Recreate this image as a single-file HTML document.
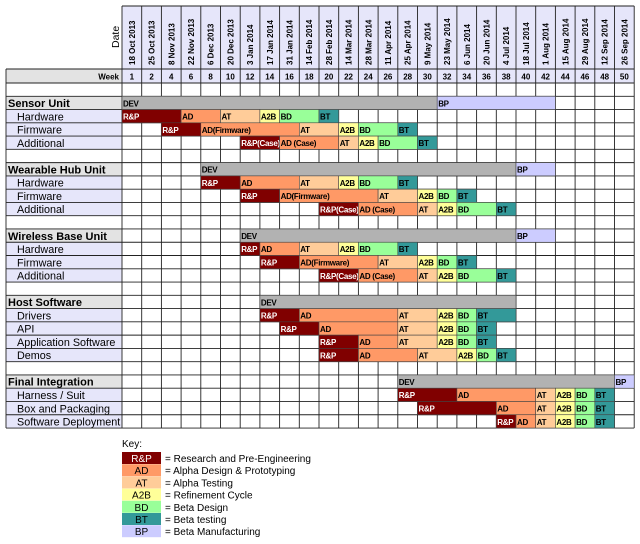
<!DOCTYPE html>
<html><head><meta charset="utf-8"><style>
body{margin:0;background:#fff;width:640px;height:544px;overflow:hidden}
svg{display:block;font-family:"Liberation Sans",Arial,sans-serif}
</style></head><body>
<svg id="chart" width="640" height="544" viewBox="0 0 640 544"></svg>
<script>
const weeks=[1,2,4,6,8,10,12,14,16,18,20,22,24,26,28,30,32,34,36,38,40,42,44,46,48,50];
const dates=["18 Oct 2013","25 Oct 2013","8 Nov 2013","22 Nov 2013","6 Dec 2013","20 Dec 2013","3 Jan 2014","17 Jan 2014","31 Jan 2014","14 Feb 2014","28 Feb 2014","14 Mar 2014","28 Mar 2014","11 Apr 2014","25 Apr 2014","9 May 2014","23 May 2014","6 Jun 2014","20 Jun 2014","4 Jul 2014","18 Jul 2014","1 Aug 2014","15 Aug 2014","29 Aug 2014","12 Sep 2014","26 Sep 2014"];
const rowLabels=["","Sensor Unit","Hardware","Firmware","Additional","","Wearable Hub Unit","Hardware","Firmware","Additional","","Wireless Base Unit","Hardware","Firmware","Additional","","Host Software","Drivers","API","Application Software","Demos","","Final Integration","Harness / Suit","Box and Packaging","Software Deployment"];
const rowKinds=["b","g","s","s","s","b","g","s","s","s","b","g","s","s","s","b","g","s","s","s","s","b","g","s","s","s"];
// tasks: [row, code, startCol, endCol, label]
const tasks=[
[1,"DEV",0,16,"DEV"],[1,"BP",16,22,"BP"],
[2,"RP",0,3,"R&P"],[2,"AD",3,5,"AD"],[2,"AT",5,7,"AT"],[2,"A2B",7,8,"A2B"],[2,"BD",8,10,"BD"],[2,"BT",10,11,"BT"],
[3,"RP",2,4,"R&P"],[3,"AD",4,9,"AD(Firmware)"],[3,"AT",9,11,"AT"],[3,"A2B",11,12,"A2B"],[3,"BD",12,14,"BD"],[3,"BT",14,15,"BT"],
[4,"RP",6,8,"R&P(Case)"],[4,"AD",8,11,"AD (Case)"],[4,"AT",11,12,"AT"],[4,"A2B",12,13,"A2B"],[4,"BD",13,15,"BD"],[4,"BT",15,16,"BT"],
[6,"DEV",4,20,"DEV"],[6,"BP",20,22,"BP"],
[7,"RP",4,6,"R&P"],[7,"AD",6,9,"AD"],[7,"AT",9,11,"AT"],[7,"A2B",11,12,"A2B"],[7,"BD",12,14,"BD"],[7,"BT",14,15,"BT"],
[8,"RP",6,8,"R&P"],[8,"AD",8,13,"AD(Firmware)"],[8,"AT",13,15,"AT"],[8,"A2B",15,16,"A2B"],[8,"BD",16,17,"BD"],[8,"BT",17,18,"BT"],
[9,"RP",10,12,"R&P(Case)"],[9,"AD",12,15,"AD (Case)"],[9,"AT",15,16,"AT"],[9,"A2B",16,17,"A2B"],[9,"BD",17,19,"BD"],[9,"BT",19,20,"BT"],
[11,"DEV",6,20,"DEV"],[11,"BP",20,22,"BP"],
[12,"RP",6,7,"R&P"],[12,"AD",7,9,"AD"],[12,"AT",9,11,"AT"],[12,"A2B",11,12,"A2B"],[12,"BD",12,14,"BD"],[12,"BT",14,15,"BT"],
[13,"RP",7,9,"R&P"],[13,"AD",9,13,"AD(Firmware)"],[13,"AT",13,15,"AT"],[13,"A2B",15,16,"A2B"],[13,"BD",16,17,"BD"],[13,"BT",17,18,"BT"],
[14,"RP",10,12,"R&P(Case)"],[14,"AD",12,15,"AD (Case)"],[14,"AT",15,16,"AT"],[14,"A2B",16,17,"A2B"],[14,"BD",17,19,"BD"],[14,"BT",19,20,"BT"],
[16,"DEV",7,20,"DEV"],
[17,"RP",7,9,"R&P"],[17,"AD",9,14,"AD"],[17,"AT",14,16,"AT"],[17,"A2B",16,17,"A2B"],[17,"BD",17,18,"BD"],[17,"BT",18,20,"BT"],
[18,"RP",8,10,"R&P"],[18,"AD",10,14,"AD"],[18,"AT",14,16,"AT"],[18,"A2B",16,17,"A2B"],[18,"BD",17,18,"BD"],[18,"BT",18,19,"BT"],
[19,"RP",10,12,"R&P"],[19,"AD",12,14,"AD"],[19,"AT",14,16,"AT"],[19,"A2B",16,17,"A2B"],[19,"BD",17,18,"BD"],[19,"BT",18,19,"BT"],
[20,"RP",10,12,"R&P"],[20,"AD",12,15,"AD"],[20,"AT",15,17,"AT"],[20,"A2B",17,18,"A2B"],[20,"BD",18,19,"BD"],[20,"BT",19,20,"BT"],
[22,"DEV",14,25,"DEV"],[22,"BP",25,26,"BP"],
[23,"RP",14,17,"R&P"],[23,"AD",17,21,"AD"],[23,"AT",21,22,"AT"],[23,"A2B",22,23,"A2B"],[23,"BD",23,24,"BD"],[23,"BT",24,25,"BT"],
[24,"RP",15,19,"R&P"],[24,"AD",19,21,"AD"],[24,"AT",21,22,"AT"],[24,"A2B",22,23,"A2B"],[24,"BD",23,24,"BD"],[24,"BT",24,25,"BT"],
[25,"RP",19,20,"R&P"],[25,"AD",20,21,"AD"],[25,"AT",21,22,"AT"],[25,"A2B",22,23,"A2B"],[25,"BD",23,24,"BD"],[25,"BT",24,25,"BT"]
];
const keyCodes=["RP","AD","AT","A2B","BD","BT","BP"];
const keyShort=["R&P","AD","AT","A2B","BD","BT","BP"];
const keyText=["= Research and Pre-Engineering","= Alpha Design & Prototyping","= Alpha Testing","= Refinement Cycle","= Beta Design","= Beta testing","= Beta Manufacturing"];

const colors={RP:"#800000",AD:"#ff9966",AT:"#ffcc99",A2B:"#ffff99",BD:"#99ff99",BT:"#339999",BP:"#ccccff",DEV:"#b2b2b2"};
const X0=122,CW=19.7,LX=6,Y0=83,RH=13.27,HY=6,WY=69;
const svg=document.getElementById('chart');
const NS="http://www.w3.org/2000/svg";
function mk(tag,at,parent){const e=document.createElementNS(NS,tag);for(const k in at)e.setAttribute(k,at[k]);(parent||svg).appendChild(e);return e;}
const xc=i=>X0+i*CW, yr=r=>Y0+r*RH;
const nC=weeks.length,nR=rowLabels.length;
for(let i=0;i<nC;i++){
  const c=mk('rect',{x:xc(i),y:HY,width:CW,height:WY-HY,fill:"#e6e6fa"});
  
  
  const t=mk('text',{x:0,y:0,transform:`translate(${xc(i)+CW/2+3},${WY-4}) rotate(-90)`,"font-size":"8","font-weight":"bold",fill:"#000"});
  t.textContent=dates[i];
  
  
  const w=mk('rect',{x:xc(i),y:WY,width:CW,height:Y0-WY,fill:"#e6e6fa"});
  
  
  const wt=mk('text',{x:xc(i)+CW/2,y:WY+10.5,"text-anchor":"middle","font-size":"8","font-weight":"bold"});
  wt.textContent=weeks[i];
  
  
}
const dl=mk('text',{x:0,y:0,transform:`translate(119,48) rotate(-90)`,"font-size":"10.5"});
dl.textContent="Date";


mk('rect',{x:LX,y:WY,width:X0-LX,height:Y0-WY,fill:"#e3e3e3"});
const wk=mk('text',{x:X0-3,y:WY+10.5,"text-anchor":"end","font-size":"8","font-weight":"bold"});
wk.textContent="Week";


for(let r=0;r<nR;r++){
  const k=rowKinds[r];
  const fill=k==="g"?"#e3e3e3":k==="s"?"#e6e6fa":"#fff";
  const c=mk('rect',{x:LX,y:yr(r),width:X0-LX,height:RH,fill:fill});
  
  
  if(rowLabels[r]){
    const t=mk('text',{x:k==="g"?LX+2:LX+11,y:yr(r)+10.8,"font-size":k==="g"?"11":"10.8","font-weight":k==="g"?"bold":"normal"});
    t.textContent=rowLabels[r];
    
    
  }
}
const gx=mk('g',{stroke:"#222","stroke-width":"0.9"});
for(let i=0;i<=nC;i++) mk('line',{x1:xc(i),y1:HY,x2:xc(i),y2:yr(nR)},gx);
mk('line',{x1:LX,y1:WY,x2:LX,y2:yr(nR)},gx);
for(let r=0;r<=nR;r++) mk('line',{x1:LX,y1:yr(r),x2:xc(nC),y2:yr(r)},gx);
mk('line',{x1:X0,y1:HY,x2:xc(nC),y2:HY},gx);
mk('line',{x1:LX,y1:WY,x2:xc(nC),y2:WY},gx);
for(const [r,code,s,e,lab] of tasks){
  const b=mk('rect',{x:xc(s),y:yr(r),width:(e-s)*CW,height:RH,fill:colors[code],stroke:"#444","stroke-width":"0.6"});
  
  
  const t=mk('text',{x:xc(s)+1,y:yr(r)+10,"font-size":"8","font-weight":"bold",fill:code==="RP"?"#fff":"#000","letter-spacing":"-0.3"});
  t.textContent=lab;
  
  
}
const kt=mk('text',{x:122,y:447,"font-size":"10"});
kt.textContent="Key:";


for(let i=0;i<keyCodes.length;i++){
  const y=452+i*12.2;
  const s=mk('rect',{x:122,y:y,width:39,height:12,fill:colors[keyCodes[i]]});
  
  
  const a=mk('text',{x:141.5,y:y+10,"text-anchor":"middle","font-size":"10",fill:keyCodes[i]==="RP"?"#fff":"#000"});
  a.textContent=keyShort[i];
  
  
  const b=mk('text',{x:165,y:y+10,"font-size":"10"});
  b.textContent=keyText[i];
  
  
}
</script>
</body></html>
